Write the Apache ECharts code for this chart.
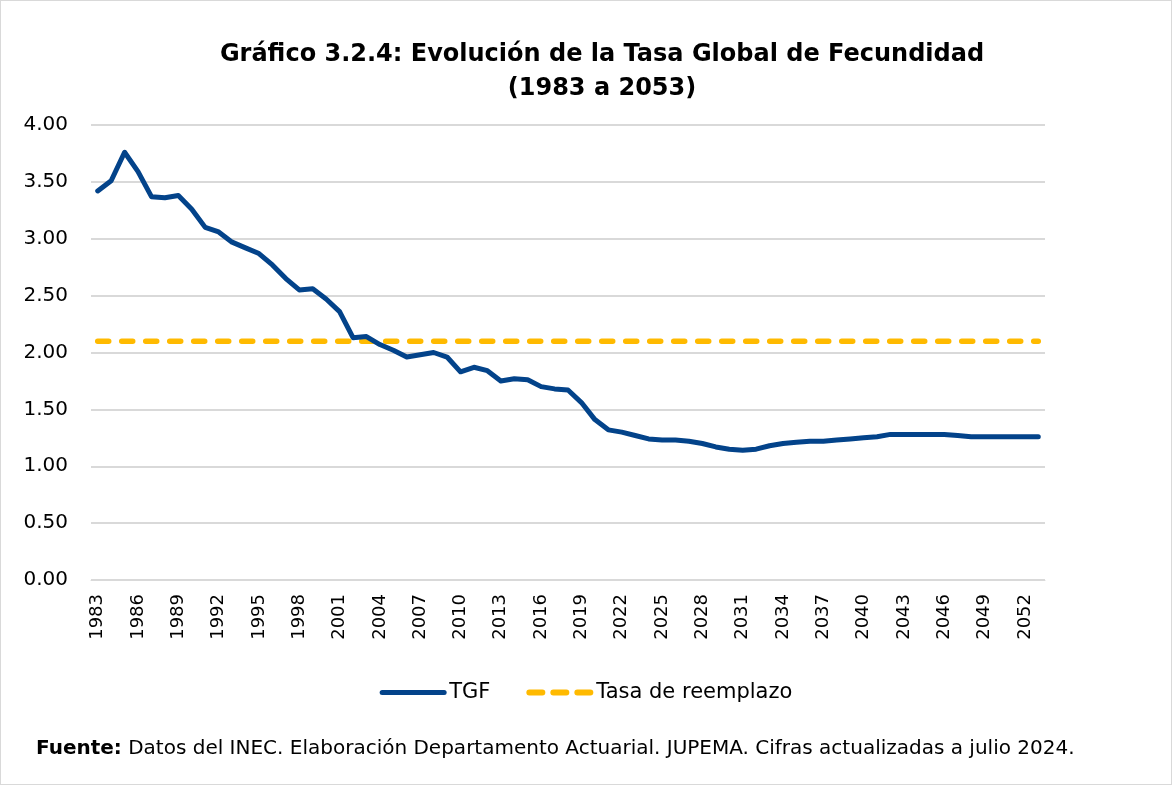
<!DOCTYPE html>
<html>
<head>
<meta charset="utf-8">
<script src="https://cdn.jsdelivr.net/npm/echarts@6/dist/echarts.min.js"></script>
<style>
  html, body { margin: 0; padding: 0; background: #fff; }
  #chart { width: 1172px; height: 785px; box-sizing: border-box; border: 1px solid #d9d9d9; }
</style>
</head>
<body>
<div id="chart"></div>
<script>
const years = [];
for (let y = 1983; y <= 2053; y++) years.push(String(y));

const tgf = [
  3.42, 3.51, 3.76, 3.59, 3.37, 3.36, 3.38, 3.26, 3.10, 3.06,
  2.97, 2.92, 2.87, 2.77, 2.65, 2.55, 2.56, 2.47, 2.36, 2.13,
  2.14, 2.07, 2.02, 1.96, 1.98, 2.00, 1.96, 1.83, 1.87, 1.84,
  1.75, 1.77, 1.76, 1.70, 1.68, 1.67, 1.56, 1.41, 1.32, 1.30,
  1.27, 1.24, 1.23, 1.23, 1.22, 1.20, 1.17, 1.15, 1.14, 1.15,
  1.18, 1.20, 1.21, 1.22, 1.22, 1.23, 1.24, 1.25, 1.26, 1.28,
  1.28, 1.28, 1.28, 1.28, 1.27, 1.26, 1.26, 1.26, 1.26, 1.26,
  1.26
];

const reemplazo = years.map(() => 2.10);

const font = '"DejaVu Sans", sans-serif';
const blue = '#03438a';
const gold = '#ffba00';
const chart = echarts.init(document.getElementById('chart'));

const option = {
  animation: false,
  title: {
    text: 'Gráfico 3.2.4: Evolución de la Tasa Global de Fecundidad\n(1983 a 2053)',
    left: 596,
    textAlign: 'center',
    top: 32,
    textStyle: { fontFamily: font, fontSize: 24, fontWeight: 'bold', color: '#000', lineHeight: 34 }
  },
  legend: {
    top: 676,
    left: 'center',
    itemWidth: 62,
    itemHeight: 14,
    itemGap: 36,
    itemStyle: { opacity: 0 },
    textStyle: { fontFamily: font, fontSize: 21, color: '#000' },
    data: [
      { name: 'TGF', lineStyle: { width: 5, color: blue } },
      { name: 'Tasa de reemplazo', lineStyle: { width: 6, color: gold, type: [13, 11], cap: 'round' } }
    ]
  },
  grid: { left: 90, right: 126, top: 124, bottom: 204 },
  xAxis: {
    type: 'category',
    data: years,
    boundaryGap: true,
    axisLine: { show: true, lineStyle: { color: '#d9d9d9', width: 1 } },
    axisTick: { show: false },
    axisLabel: {
      interval: 2,
      rotate: 90,
      margin: 14,
      fontFamily: font,
      fontSize: 18,
      color: '#000'
    }
  },
  yAxis: {
    type: 'value',
    min: 0,
    max: 4,
    interval: 0.5,
    axisLine: { show: false },
    axisTick: { show: false },
    splitLine: { lineStyle: { color: '#d9d9d9', width: 2 } },
    axisLabel: {
      formatter: v => v.toFixed(2),
      margin: 23,
      fontFamily: font,
      fontSize: 20,
      color: '#000'
    }
  },
  series: [
    {
      name: 'TGF',
      type: 'line',
      data: tgf,
      symbol: 'none',
      lineStyle: { color: blue, width: 5, cap: 'round', join: 'round' },
      itemStyle: { color: blue },
      z: 3
    },
    {
      name: 'Tasa de reemplazo',
      type: 'line',
      data: reemplazo,
      symbol: 'none',
      lineStyle: { color: gold, width: 5.5, type: [11, 13], cap: 'round' },
      itemStyle: { color: gold },
      z: 2
    }
  ],
  graphic: [
    {
      type: 'text',
      left: 35,
      top: 738,
      style: {
        rich: {
          b: { fontFamily: font, fontSize: 20, fontWeight: 'bold', fill: '#000' },
          n: { fontFamily: font, fontSize: 20, fill: '#000' }
        },
        text: '{b|Fuente:}{n| Datos del INEC. Elaboración Departamento Actuarial. JUPEMA. Cifras actualizadas a julio 2024.}'
      }
    }
  ]
};

chart.setOption(option);
window.addEventListener('resize', () => chart.resize());
</script>
</body>
</html>
